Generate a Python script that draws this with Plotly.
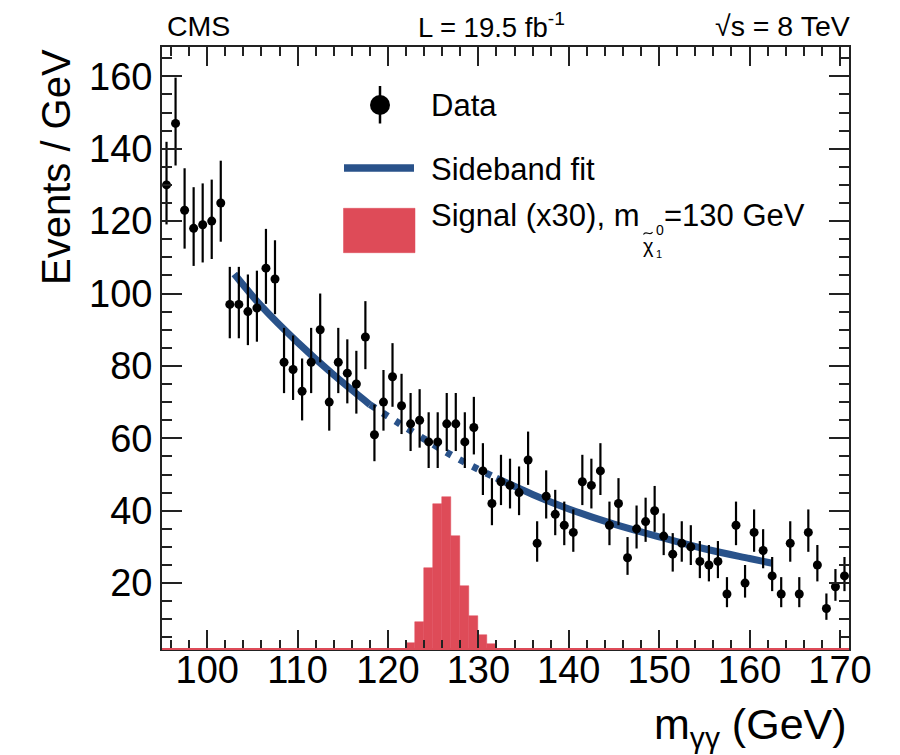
import numpy as np
import plotly.graph_objects as go

# ---------------- data ----------------
bin_centers = np.arange(95.5, 171.0, 1.0)
data_counts = [130, 147, 123, 118, 119, 120, 125,
               97, 97, 95, 96, 107, 104,
               81, 79, 73, 81, 90, 70, 81, 78, 75, 88,
               61, 70, 77, 69, 64, 65, 59, 59, 64, 64, 59, 63,
               51, 42, 48, 47, 45, 54, 31, 44, 39, 36, 34, 48, 47, 51, 36, 42,
               27, 35, 37, 40, 33, 28, 31, 30, 26, 25, 26, 17, 36, 20, 34, 29,
               22, 17, 31, 17, 34, 25, 13, 19, 22]

signal_centers = [122.5, 123.5, 124.5, 125.5, 126.5, 127.5, 128.5, 129.5, 130.5, 131.5]
signal_values = [3.5, 9.2, 24.2, 41.9, 43.9, 32.9, 19.3, 11.0, 5.7, 3.3]

fit_x_left = [103, 106, 110, 114, 118]
fit_y_left = [105.4, 96.5, 86.5, 77.5, 69.3]
fit_x_mid = [118, 121, 125, 128, 132]
fit_y_mid = [69.3, 64.5, 58.3, 54.0, 49.0]
fit_x_right = [132, 136, 140, 145, 150, 155, 160, 162.5]
fit_y_right = [49.0, 44.5, 40.5, 36.3, 32.8, 29.5, 26.8, 25.5]

x_range = [95, 171]
y_range = [1.8, 168.1]

# Poisson-style asymmetric errors
counts = np.array(data_counts, dtype=float)
err_up = np.sqrt(counts + 0.25) + 0.5
err_dn = np.sqrt(counts + 0.25) - 0.5

# ---------------- styling ----------------
FONT = "Liberation Sans"
BLUE = "#29528a"
RED = "#de4b58"
W, H = 900, 755
ML, MR, MT, MB = 162, 51, 47, 106
PW = W - ML - MR
PH = H - MT - MB


def px(x):
    return (x - ML) / PW


def py(y):
    return 1 - (y - MT) / PH


fig = go.Figure()

fig.add_trace(go.Bar(x=signal_centers, y=signal_values, width=1.0,
                     marker=dict(color=RED, line=dict(color=RED, width=0.5)),
                     showlegend=False, hoverinfo="skip"))

for xs, ys, dash in [(fit_x_left, fit_y_left, "solid"),
                     (fit_x_mid, fit_y_mid, "6px,9px"),
                     (fit_x_right, fit_y_right, "solid")]:
    fig.add_trace(go.Scatter(x=xs, y=ys, mode="lines",
                             line=dict(color=BLUE, width=7, dash=dash, shape="spline"),
                             showlegend=False, hoverinfo="skip"))

fig.add_trace(go.Scatter(x=bin_centers, y=data_counts, mode="markers",
                         marker=dict(color="black", size=9),
                         error_y=dict(type="data", symmetric=False, array=err_up,
                                      arrayminus=err_dn, color="black",
                                      thickness=2.2, width=0),
                         showlegend=False))

# invisible helper trace so the label-only x axis is drawn
fig.add_trace(go.Scatter(x=[x_range[0]], y=[None], xaxis="x2", mode="markers",
                         showlegend=False, hoverinfo="skip"))

axis_common = dict(showline=True, linecolor="#222222", linewidth=1.8, mirror="ticks",
                   ticks="inside", tickcolor="#222222", tickwidth=1.5,
                   showgrid=False, zeroline=False,
                   tickfont=dict(family=FONT, size=38, color="black"))

fig.update_layout(
    xaxis=dict(range=x_range, tickmode="linear", tick0=100, dtick=10, ticklen=19,
               showticklabels=False,
               minor=dict(dtick=2, tick0=100, ticklen=9, ticks="inside",
                          tickcolor="#222222", tickwidth=1.5, showgrid=False),
               **axis_common),
    xaxis2=dict(range=x_range, overlaying="x", anchor="free", position=5 / PH,
                side="bottom", tickmode="linear", tick0=100, dtick=10,
                showline=False, ticks="", showgrid=False, zeroline=False,
                tickfont=dict(family=FONT, size=38, color="black")),
    yaxis=dict(range=y_range, tickmode="linear", tick0=0, dtick=20, ticklen=20,
               minor=dict(dtick=5, tick0=0, ticklen=10, ticks="inside",
                          tickcolor="#222222", tickwidth=1.5, showgrid=False),
               **axis_common),
)

shapes = []
# red baseline along the bottom
shapes.append(dict(type="line", xref="paper", yref="paper", x0=0, x1=1, y0=0, y1=0,
                   line=dict(color=RED, width=2), layer="above"))
# legend: Data
shapes.append(dict(type="line", xref="paper", yref="paper", x0=px(380), x1=px(380),
                   y0=py(86), y1=py(123.5), line=dict(color="black", width=2.5)))
shapes.append(dict(type="circle", xref="paper", yref="paper", x0=px(370), x1=px(390),
                   y0=py(115), y1=py(95), fillcolor="black", line=dict(color="black", width=0)))
# legend: fit
shapes.append(dict(type="line", xref="paper", yref="paper", x0=px(344), x1=px(414),
                   y0=py(168), y1=py(168), line=dict(color=BLUE, width=7.3)))
# legend: signal
shapes.append(dict(type="rect", xref="paper", yref="paper", x0=px(343.5), x1=px(415),
                   y0=py(252.7), y1=py(208.3), fillcolor=RED, line=dict(color=RED, width=0.5)))
# tilde over the chi in the legend label
tilde = "M {:.5f},{:.5f} C {:.5f},{:.5f} {:.5f},{:.5f} {:.5f},{:.5f}".format(
    px(643.5), py(234.5), px(645.8), py(229.5), px(650.2), py(237.0), px(652.5), py(232.0))
shapes.append(dict(type="path", xref="paper", yref="paper", path=tilde,
                   line=dict(color="black", width=1.1)))

ann = []


def text(t, x, y, size, xanchor="left", yanchor="middle", angle=0):
    ann.append(dict(text=t, x=px(x), y=py(y), xref="paper", yref="paper",
                    xanchor=xanchor, yanchor=yanchor, showarrow=False, textangle=angle,
                    font=dict(family=FONT, size=size, color="black")))


text("CMS", 165, 26, 28.5)
text("L = 19.5 fb<sup>-1</sup>", 491, 26, 27.5, xanchor="center")
text("√s = 8 TeV", 852, 26, 28.5, xanchor="right")

text("Data", 429, 105.5, 31)
text("Sideband fit", 429, 169, 31)
text("Signal (x30), m", 429, 215.5, 31)
text("χ", 648, 246, 20, xanchor="center")
text("0", 659.5, 230, 14, xanchor="center")
text("1", 658.5, 254, 11, xanchor="center")
text("=130 GeV", 662, 215.5, 31)

text("Events / GeV", 56, 167, 40, xanchor="center", yanchor="middle", angle=-90)
text("m<sub>γγ</sub> (GeV)", 849, 727, 43, xanchor="right", yanchor="middle")

fig.update_layout(width=W, height=H, margin=dict(l=ML, r=MR, t=MT, b=MB),
                  plot_bgcolor="white", paper_bgcolor="white", bargap=0,
                  shapes=shapes, annotations=ann, showlegend=False)

fig.write_html("out.html")
